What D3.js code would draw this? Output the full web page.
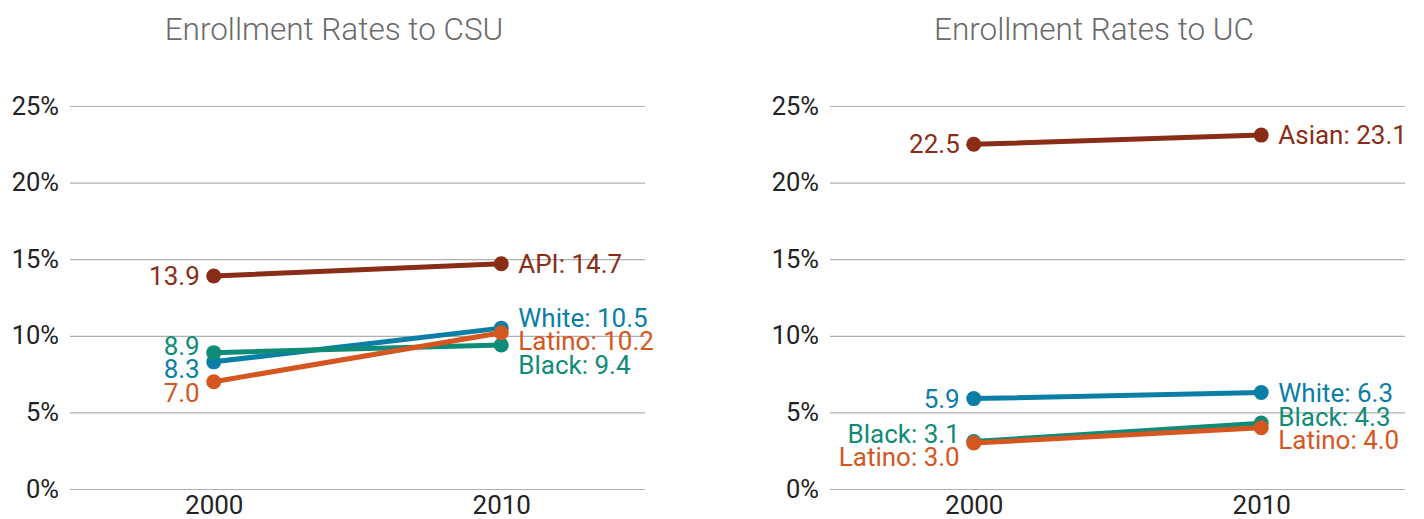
<!DOCTYPE html>
<html>
<head>
<meta charset="utf-8">
<script src="https://cdn.jsdelivr.net/npm/d3@7"></script>
<style>
  html, body { margin: 0; padding: 0; background: #fff; }
  svg { display: block; font-family: Roboto, "Noto Sans", sans-serif; }
</style>
</head>
<body>
<svg id="chart" width="1424" height="519"></svg>
<script>
// ---------- data ----------
const years = ["2000", "2010"];
const yTicks = [0, 5, 10, 15, 20, 25];

const csuTitle = "Enrollment Rates to CSU";
const csuApi    = [13.9, 14.7];
const csuWhite  = [8.3, 10.5];
const csuLatino = [7.0, 10.2];
const csuBlack  = [8.9, 9.4];

const ucTitle = "Enrollment Rates to UC";
const ucAsian  = [22.5, 23.1];
const ucWhite  = [5.9, 6.3];
const ucLatino = [3.0, 4.0];
const ucBlack  = [3.1, 4.3];

// start labels: which groups show the name on the 2000 side
const ucStartNamed = ["Black", "Latino"];

const colors = {
  API: "#8a2d17", Asian: "#8a2d17",
  White: "#0b7ea6",
  Latino: "#d5561f",
  Black: "#0f8c78"
};

const panels = [
  { title: csuTitle, series: [
      { name: "API", values: csuApi },
      { name: "White", values: csuWhite },
      { name: "Black", values: csuBlack },
      { name: "Latino", values: csuLatino } ], startNamed: [] },
  { title: ucTitle, series: [
      { name: "Asian", values: ucAsian },
      { name: "White", values: ucWhite },
      { name: "Black", values: ucBlack },
      { name: "Latino", values: ucLatino } ], startNamed: ucStartNamed }
];

// ---------- layout ----------
const svg = d3.select("#chart");
const panelW = 668, panelOffsets = [0, 760];
const plotL = 70, plotR = 645, plotT = 106, plotB = 489;

const x = d3.scalePoint().domain(years).range([plotL, plotR]).padding(0.5);
const y = d3.scaleLinear().domain([0, 25]).range([plotB, plotT]);

function relax(items, gap) {
  items.sort((a, b) => a.y - b.y);
  for (let it = 0; it < 200; it++) {
    let moved = false;
    for (let i = 0; i < items.length - 1; i++) {
      const a = items[i], b = items[i + 1];
      const d = b.y - a.y;
      if (d < gap - 0.01) {
        const o = gap - d;
        a.y -= o * 0.35; b.y += o * 0.65; moved = true;
      }
    }
    if (!moved) break;
  }
  return items;
}

panels.forEach((p, pi) => {
  const g = svg.append("g").attr("transform", `translate(${panelOffsets[pi]},0)`);

  g.append("text")
    .attr("x", panelW / 2).attr("y", 40)
    .attr("text-anchor", "middle")
    .attr("font-size", 31.5).attr("font-weight", 300)
    .attr("fill", "#6a6a6a")
    .text(p.title);

  // y axis gridlines + labels
  const yAxis = d3.axisLeft(y).tickValues(yTicks).tickSize(-(plotR - plotL)).tickFormat(d => d + "%").tickPadding(11);
  const ya = g.append("g").attr("transform", `translate(${plotL},0)`).call(yAxis);
  ya.select(".domain").remove();
  ya.selectAll(".tick line").attr("stroke", "#b0b0b0").attr("stroke-width", 1.2);
  ya.selectAll(".tick text").attr("font-size", 25.5).attr("fill", "#222")
    .attr("font-family", "Roboto, sans-serif").attr("dy", "0.32em");

  // x axis labels
  const xAxis = d3.axisBottom(x).tickSize(0).tickPadding(7);
  const xa = g.append("g").attr("transform", `translate(0,${plotB})`).call(xAxis);
  xa.select(".domain").remove();
  xa.selectAll(".tick text").attr("font-size", 26).attr("fill", "#222")
    .attr("font-family", "Roboto, sans-serif");

  const line = d3.line().x((d, i) => x(years[i])).y(d => y(d));

  p.series.forEach(s => {
    g.append("path").datum(s.values)
      .attr("d", line).attr("fill", "none")
      .attr("stroke", colors[s.name]).attr("stroke-width", 5)
      .attr("stroke-linecap", "round");
    g.selectAll(null).data(s.values).enter().append("circle")
      .attr("cx", (d, i) => x(years[i])).attr("cy", d => y(d))
      .attr("r", 7.5).attr("fill", colors[s.name]);
  });

  // labels
  const startLabels = relax(p.series.map(s => ({
    name: s.name, y: y(s.values[0]),
    text: (p.startNamed.includes(s.name) ? s.name + ": " : "") + s.values[0].toFixed(1)
  })), 23.5);
  const endLabels = relax(p.series.map(s => ({
    name: s.name, y: y(s.values[1]),
    text: s.name + ": " + s.values[1].toFixed(1)
  })), 23.5);

  g.selectAll(null).data(startLabels).enter().append("text")
    .attr("x", x(years[0]) - 14).attr("y", d => d.y)
    .attr("dy", "0.35em").attr("text-anchor", "end")
    .attr("font-size", 26).attr("fill", d => colors[d.name])
    .text(d => d.text);
  g.selectAll(null).data(endLabels).enter().append("text")
    .attr("x", x(years[1]) + 17).attr("y", d => d.y)
    .attr("dy", "0.35em").attr("text-anchor", "start")
    .attr("font-size", 26).attr("fill", d => colors[d.name])
    .text(d => d.text);
});
</script>
</body>
</html>
